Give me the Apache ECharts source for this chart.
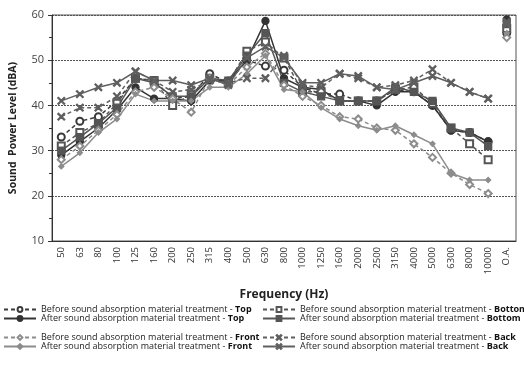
<!DOCTYPE html>
<html>
<head>
<meta charset="utf-8">
<script src="https://cdn.jsdelivr.net/npm/echarts@6/dist/echarts.min.js"></script>
<style>
    html, body { margin: 0; padding: 0; background: #fff; }
    #chart { width: 524px; height: 367px; }
</style>
</head>
<body>
<div id="chart"></div>
<script>
    // 频率 (Hz)
    let freqs = ['50', '63', '80', '100', '125', '160', '200', '250', '315', '400', '500', '630', '800',
        '1000', '1250', '1600', '2000', '2500', '3150', '4000', '5000', '6300', '8000', '10000', 'O.A.']

    // 最后一个值为 O.A.
    let beforeTop = [33, 36.5, 37.5, 41, 46, 45.5, 41.5, 42, 47, 45, 50, 48.7, 47.8, 44, 42.5, 42.5, 41, 41, 43.5, 43, 40, 34.5, 34, 32, 56]
    let afterTop = [29, 32, 35, 39, 44, 41.5, 41.5, 41, 45.5, 45.5, 50, 58.7, 46, 44, 43.5, 41, 41, 40, 43, 43, 40, 34.5, 34, 32, 59]
    let beforeBottom = [31, 34, 36, 40.5, 46, 45.5, 40, 42.5, 46, 45, 52, 54, 50.5, 43, 43, 41, 41, 41, 43.5, 44, 40.5, 35, 31.5, 28, 57]
    let afterBottom = [30, 33, 36, 39.5, 46, 45, 42, 42, 46, 45.5, 51, 56, 45, 43, 42, 41, 41, 41, 44, 43, 41, 35, 34, 31, 58]
    let beforeFront = [28, 31, 34.5, 38, 43, 44, 41.5, 38.5, 46, 44.5, 48.5, 51.5, 44.5, 42, 40, 37.5, 37, 35, 34.5, 31.5, 28.5, 25, 22.5, 20.5, 55]
    let afterFront = [26.5, 29.5, 34, 37, 42.5, 41, 41, 41, 44, 44, 47, 51, 43.5, 43, 39.5, 37, 35.5, 34.5, 35.5, 33.5, 31.5, 25, 23.5, 23.5, 56]
    let beforeBack = [37.5, 39.5, 39.5, 42, 47.5, 45.5, 43, 43.5, 45.5, 45, 46, 46, 51, 44.5, 44, 47, 46, 44, 44.5, 45.5, 48, 45, 43, 41.5, 58]
    let afterBack = [41, 42.5, 44, 45, 47.5, 45.5, 45.5, 44.5, 46, 44.5, 50.5, 53, 50.5, 45, 45, 47, 46.5, 44, 43.5, 45, 46.5, 45, 43, 41.5, 58.5]

    const PREFIX_B = 'Before sound absorption material treatment - '
    const PREFIX_A = 'After sound absorption material treatment - '
    const X_SYMBOL = 'path://M0,1L1,0L5,4L9,0L10,1L6,5L10,9L9,10L5,6L1,10L0,9L4,5Z'

    let defs = [
        {name: PREFIX_B + 'Top', data: beforeTop, color: '#3a3a3a', dash: true, symbol: 'emptyCircle', size: 7},
        {name: PREFIX_A + 'Top', data: afterTop, color: '#333333', dash: false, symbol: 'circle', size: 7},
        {name: PREFIX_B + 'Bottom', data: beforeBottom, color: '#555555', dash: true, symbol: 'emptyRect', size: 7},
        {name: PREFIX_A + 'Bottom', data: afterBottom, color: '#555555', dash: false, symbol: 'rect', size: 7},
        {name: PREFIX_B + 'Front', data: beforeFront, color: '#8c8c8c', dash: true, symbol: 'emptyDiamond', size: 7},
        {name: PREFIX_A + 'Front', data: afterFront, color: '#8c8c8c', dash: false, symbol: 'diamond', size: 5},
        {name: PREFIX_B + 'Back', data: beforeBack, color: '#5f5f5f', dash: true, symbol: X_SYMBOL, size: 7},
        {name: PREFIX_A + 'Back', data: afterBack, color: '#5f5f5f', dash: false, symbol: X_SYMBOL, size: 7}
    ]

    let series = []
    defs.forEach(d => {
        let base = {
            type: 'line',
            symbol: d.symbol,
            symbolSize: d.size,
            showAllSymbol: true,
            itemStyle: {color: d.color, borderColor: d.color, borderWidth: 1.3},
            lineStyle: {color: d.color, width: 1.5, type: d.dash ? [4, 3] : 'solid'},
            emphasis: {disabled: true},
            animation: false,
            z: 3
        }
        // 频率段曲线，不连到 O.A.
        series.push(Object.assign({}, base, {
            name: d.name,
            data: d.data.map((v, i) => i === d.data.length - 1 ? '-' : v)
        }))
        // O.A. 单点
        series.push(Object.assign({}, base, {
            name: d.name + ' O.A.',
            data: d.data.map((v, i) => i === d.data.length - 1 ? v : '-')
        }))
    })

    function makeLegend(names, left, top) {
        return {
            data: names,
            left: left,
            top: top,
            orient: 'vertical',
            itemWidth: 32,
            itemHeight: 6,
            itemGap: 0,
            padding: 0,
            selectedMode: false,
            formatter(name) {
                let parts = name.split(' - ')
                return `{a|${parts[0]} - }{b|${parts[1]}}`
            },
            textStyle: {
                fontFamily: 'Open Sans',
                fontSize: 9,
                color: '#222',
                rich: {
                    a: {fontFamily: 'Open Sans', fontSize: 9, color: '#222', lineHeight: 10},
                    b: {fontFamily: 'Open Sans', fontSize: 9, fontWeight: 'bold', color: '#111', lineHeight: 10}
                }
            }
        }
    }

    let chart = echarts.init(document.getElementById('chart'))
    chart.setOption({
        backgroundColor: '#fff',
        animation: false,
        grid: {
            left: 52,
            right: 8,
            top: 15,
            bottom: 126,
            show: true,
            borderColor: '#555',
            borderWidth: 1,
            containLabel: false
        },
        legend: [
            makeLegend([defs[0].name, defs[1].name], 3, 305),
            makeLegend([defs[2].name, defs[3].name], 262, 305),
            makeLegend([defs[4].name, defs[5].name], 3, 333),
            makeLegend([defs[6].name, defs[7].name], 262, 333)
        ],
        xAxis: {
            type: 'category',
            data: freqs,
            boundaryGap: true,
            name: 'Frequency (Hz)',
            nameLocation: 'middle',
            nameGap: 48,
            nameTextStyle: {fontFamily: 'Open Sans', fontSize: 12, fontWeight: 'bold', color: '#222'},
            axisLine: {lineStyle: {color: '#333', width: 1}},
            axisTick: {show: false},
            axisLabel: {
                rotate: 90,
                interval: 0,
                margin: 6,
                fontFamily: 'Open Sans',
                fontSize: 9.5,
                color: '#333'
            },
            splitLine: {show: false}
        },
        yAxis: {
            type: 'value',
            min: 10,
            max: 60,
            interval: 10,
            name: 'Sound  Power Level (dBA)',
            nameLocation: 'middle',
            nameGap: 33,
            nameTextStyle: {fontFamily: 'Open Sans', fontSize: 10.5, fontWeight: 'bold', color: '#222'},
            axisLine: {show: true, lineStyle: {color: '#333', width: 1}},
            axisTick: {show: true, length: 4, lineStyle: {color: '#333'}},
            minorTick: {show: true, splitNumber: 2, length: 3, lineStyle: {color: '#333'}},
            axisLabel: {fontFamily: 'Open Sans', fontSize: 11, color: '#444', margin: 8},
            splitLine: {show: true, lineStyle: {color: '#555', type: [2, 1], width: 1}}
        },
        series: series
    })
</script>
</body>
</html>
